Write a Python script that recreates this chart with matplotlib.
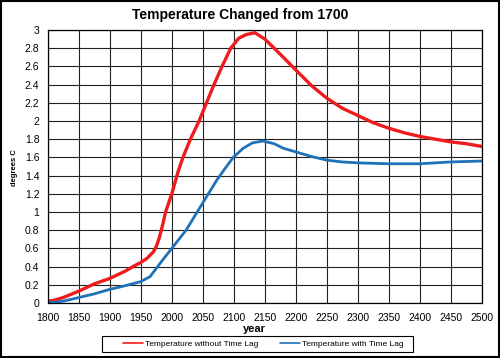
import matplotlib
matplotlib.use("Agg")
import matplotlib.pyplot as plt
from matplotlib.patches import Rectangle

plt.rcParams['font.family'] = ['Liberation Sans', 'DejaVu Sans']

years_red = [1800, 1810, 1825, 1850, 1875, 1900, 1925, 1940, 1950, 1960, 1970, 1975, 1980, 1985,
             1990, 1995, 2000, 2005, 2010, 2018, 2030, 2044, 2056, 2068, 2081, 2095, 2108, 2120,
             2134, 2150, 2171, 2200, 2225, 2250, 2275, 2300, 2325, 2350, 2375, 2400, 2425, 2450,
             2475, 2500]
temp_no_lag = [0.02, 0.03, 0.06, 0.13, 0.21, 0.27, 0.35, 0.41, 0.445, 0.49, 0.56, 0.62, 0.72, 0.85,
               1.00, 1.10, 1.20, 1.32, 1.44, 1.60, 1.80, 2.00, 2.20, 2.40, 2.60, 2.80, 2.91, 2.95,
               2.97, 2.90, 2.76, 2.56, 2.39, 2.25, 2.14, 2.06, 1.98, 1.92, 1.87, 1.83, 1.80, 1.77,
               1.75, 1.72]

years_blue = [1800, 1825, 1850, 1875, 1900, 1925, 1950, 1965, 1975, 1985, 2000, 2023, 2041, 2059,
              2073, 2085, 2099, 2115, 2130, 2147, 2165, 2180, 2200, 2225, 2250, 2275, 2300, 2350,
              2400, 2450, 2500]
temp_lag = [0.00, 0.02, 0.06, 0.10, 0.15, 0.19, 0.235, 0.29, 0.38, 0.47, 0.60, 0.80, 1.00, 1.20,
            1.355, 1.47, 1.60, 1.70, 1.76, 1.78, 1.75, 1.70, 1.66, 1.61, 1.57, 1.55, 1.54, 1.53,
            1.53, 1.55, 1.56]

title = "Temperature Changed from 1700"
label_red = "Temperature without Time Lag"
label_blue = "Temperature with Time Lag"

W, H = 500, 358
fig = plt.figure(figsize=(5, 3.58), dpi=100)
ax = fig.add_axes([47.7 / W, 1 - 303 / H, (482 - 47.7) / W, (303 - 30) / H])

ax.plot(years_red, temp_no_lag, color='#ee1c1c', lw=2.4, label=label_red, solid_capstyle='round')
ax.plot(years_blue, temp_lag, color='#1f72b8', lw=2.0, label=label_blue, solid_capstyle='round')

ax.set_xlim(1800, 2500)
ax.set_ylim(0, 3)
ax.set_xticks(range(1800, 2501, 50))
ax.set_yticks([i * 0.2 for i in range(16)])
ax.set_yticklabels(['0' if i == 0 else ('%g' % round(i * 0.2, 1)) for i in range(16)])
ax.grid(True, color='#222222', lw=0.8)
ax.set_axisbelow(True)
ax.tick_params(labelsize=7.5, length=0)
ax.tick_params(axis='x', pad=7)
ax.tick_params(axis='y', pad=6)
for s in ax.spines.values():
    s.set_color('black')
    s.set_linewidth(0.9)

fig.text(240 / W, 1 - 15 / H, title, ha='center', va='center',
         fontsize=10, fontweight='bold')
fig.text(254 / W, 1 - 329 / H, 'year', ha='center', va='center', fontsize=8, fontweight='bold')
fig.text(14 / W, 1 - 168 / H, 'degrees C', ha='center', va='center', rotation=90,
         fontsize=5.5, fontweight='bold')

leg = fig.legend(loc='center', bbox_to_anchor=(263 / W, 1 - 344 / H), ncol=2,
                 fontsize=6, frameon=False,
                 handlelength=2.4, handletextpad=0.25, columnspacing=2.6, borderpad=0.0)
for line in leg.get_lines():
    line.set_linewidth(1.2)
fig.patches.append(Rectangle((102 / W, 1 - 352 / H), (413 - 102) / W, 16 / H,
                             transform=fig.transFigure, fill=False, edgecolor='black', lw=0.8))

fig.patches.append(Rectangle((0.002, 0.003), 0.996, 0.994, transform=fig.transFigure,
                             fill=False, edgecolor='black', lw=1.5))

fig.savefig('out.png', dpi=100)
